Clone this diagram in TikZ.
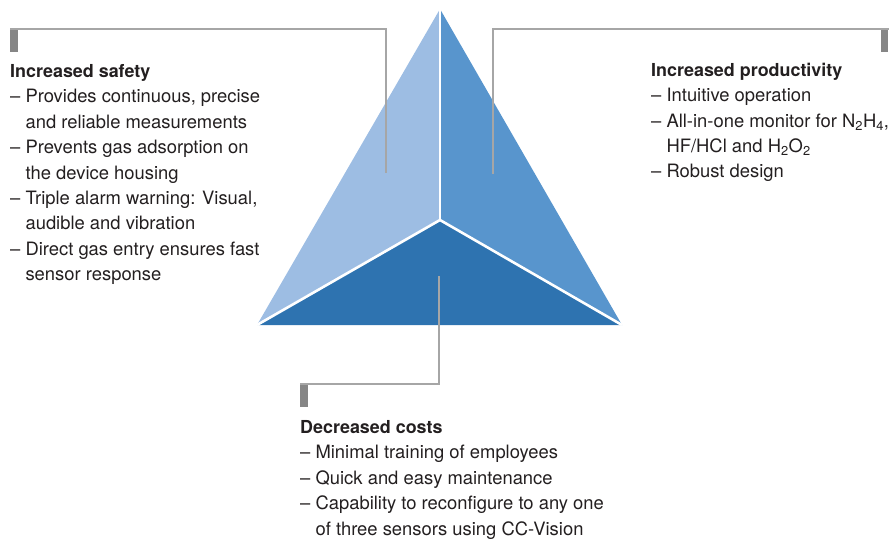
\documentclass[tikz,border=0pt]{standalone}
\usepackage{fontspec}
\setmainfont{TeX Gyre Heros}
\usepackage{tikz}
\usetikzlibrary{positioning}
\definecolor{faceleft}{HTML}{9DBDE3}
\definecolor{faceright}{HTML}{5895CD}
\definecolor{facebottom}{HTML}{2E73B0}
\definecolor{leadgray}{HTML}{A6A6A6}
\definecolor{markgray}{HTML}{868686}
\definecolor{textdark}{HTML}{231F20}
\tikzstyle{marker} = [rectangle, fill=markgray, minimum width=7.5pt, minimum height=23pt, inner sep=0pt]
\tikzstyle{leader} = [draw=leadgray, line width=1.3pt]
\tikzstyle{block} = [anchor=north west, inner sep=0pt, align=left, text=textdark, font=\fontsize{18.4}{25.4}\selectfont]
\tikzstyle{gap} = [white, line width=2.6pt]
\newcommand{\dsh}{\textendash\ }
\newcommand{\ind}{\hphantom{\textendash\ }}
\newcommand{\hd}[1]{{\fontsize{17.9}{25.4}\selectfont\bfseries #1}}

\begin{document}
\begin{tikzpicture}[x=1pt,y=-1pt]
        \useasboundingbox (0,0) rectangle (890,538);
        % pyramid
        \coordinate (top) at (440,9);
        \coordinate (ctr) at (440,220);
        \coordinate (bl) at (257,325);
        \coordinate (br) at (622,325);
        \fill [faceleft] (top) -- (ctr) -- (bl) -- cycle;
        \fill [faceright] (top) -- (br) -- (ctr) -- cycle;
        \fill [facebottom] (ctr) -- (br) -- (bl) -- cycle;
        \draw [gap] (top) -- (ctr);
        \draw [gap] (bl) -- (ctr) -- (br);
        % markers and texts
        \node (m1) [marker, anchor=north west] at (10,29) {};
        \node (m2) [marker, anchor=north east] at (888.5,29) {};
        \node (m3) [marker, anchor=north west] at (300,384) {};
        \node (a1) [block] at (10,64.2) {\hd{Increased safety}\\
            \dsh Provides continuous, precise\\
            \ind and reliable measurements\\
            \dsh Prevents gas adsorption on\\
            \ind the device housing\\
            \dsh Triple alarm warning: Visual,\\
            \ind audible and vibration\\
            \dsh Direct gas entry ensures fast\\
            \ind sensor response};
        \node (a2) [block] at (651,62.7) {\hd{Increased productivity}\\
            \dsh Intuitive operation\\
            \dsh All-in-one monitor for N\textsubscript{2}H\textsubscript{4},\\
            \ind HF/HCl and H\textsubscript{2}O\textsubscript{2}\\
            \dsh Robust design};
        \node (a3) [block] at (300,420.2) {\hd{Decreased costs}\\
            \dsh Minimal training of employees\\
            \dsh Quick and easy maintenance\\
            \dsh Capability to reconfigure to any one\\
            \ind of three sensors using CC-Vision};
        % leader lines
        \coordinate (e1) at (386,173);
        \coordinate (e2) at (493,174);
        \coordinate (e3) at (439,276);
        \draw [leader] (m1.north west) -| (e1);
        \draw [leader] (m2.north east) -| (e2);
        \draw [leader] (m3.north west) -| (e3);
    \end{tikzpicture}
\end{document}
